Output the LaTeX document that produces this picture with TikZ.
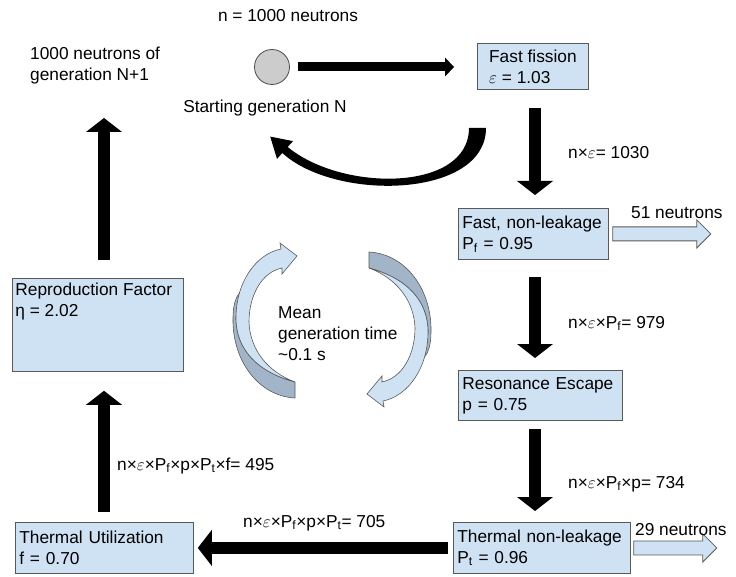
\documentclass[tikz,border=0pt]{standalone}
\usepackage{fontspec}
\setmainfont{Liberation Sans}
\usetikzlibrary{arrows.meta,calc}
\definecolor{boxfill}{HTML}{CFE2F3}
\definecolor{boxline}{HTML}{595959}
\definecolor{arcdark}{HTML}{A2B4C8}
\definecolor{circfill}{HTML}{CCCCCC}
\newcommand{\nb}[1]{\mbox{#1}}
\begin{document}
\begin{tikzpicture}[x=1pt,y=-1pt,
  every node/.style={font=\fontsize{17.3}{21}\selectfont, inner sep=0pt},
  box/.style={draw=boxline, fill=boxfill, line width=0.8pt, anchor=north west, align=left, inner xsep=4pt, inner ysep=2pt},
  blk/.style={line width=12pt, -{Triangle[width=36pt,length=14pt,line width=0pt]}},
  blkthin/.style={line width=9pt, -{Triangle[width=19pt,length=9pt,line width=0pt]}},
  hollow/.style={draw=boxline, fill=boxfill, line width=0.8pt},
  arcl/.style={draw=boxline, fill=boxfill, line width=0.6pt},
  arcd/.style={draw=boxline, fill=arcdark, line width=0.6pt},
  lbl/.style={anchor=base west}]
\useasboundingbox (0,0) rectangle (736,577);

% texts
\node[anchor=base] (title) at (288,22) {n = 1000 neutrons};
\node[anchor=north west, align=left] (nextgen) at (30,47) {1000 neutrons of\\generation N+1};
\node[anchor=base] (start) at (265,113) {Starting generation N};

% source circle
\node[circle, draw=gray!60!black, fill=circfill, minimum size=35pt, line width=0.8pt] (src) at (272,67) {};

% boxes
\node[box, minimum width=111pt, minimum height=46pt] (ff) at (477,43) {Fast fission\\$\varepsilon$ = 1.03};
\node[box, text width=142pt, minimum height=51pt] (fnl) at (458,208) {\nb{Fast, non-leakage}\\P\textsubscript{f} = 0.95};
\node[box, text width=156pt, minimum height=50pt] (res) at (458,370) {\nb{Resonance Escape}\\p = 0.75};
\node[box, text width=169pt, minimum height=51pt] (tnl) at (453,522) {\nb{Thermal non-leakage}\\P\textsubscript{t} = 0.96};
\node[box, text width=170pt, minimum height=51pt] (tu) at (15,522) {\nb{Thermal Utilization}\\f = 0.70};
\node[box, inner xsep=3pt, inner ysep=5pt] (rf) at (12,278) {\parbox[t][83pt][t]{165pt}{Reproduction Factor\\η = 2.02}};

% black arrows
\coordinate (colx) at (535,0);
\coordinate (colL) at (104,0);
\coordinate (gentip) at (104,118);
\draw[blkthin] ($(src.east)+(8.5,0)$) -- ($(src.east -| ff.west)+(-23,0)$);
\draw[blk] ($(ff.south -| colx)+(0,18)$) -- ($(fnl.north -| colx)+(0,-13)$);
\draw[blk] ($(fnl.south -| colx)+(0,17)$) -- ($(res.north -| colx)+(0,-12)$);
\draw[blk] ($(res.south -| colx)+(0,8)$) -- ($(tnl.north -| colx)+(0,-11)$);
\draw[blk] ($(tnl.west)+(-5,0)$) -- ($(tu.east)+(4,0)$);
\draw[blk] ($(tu.north -| colL)+(0,-10)$) -- ($(rf.south -| colL)+(0,19)$);
\draw[blk] ($(rf.north -| colL)+(0,-18)$) -- (gentip);

% curved return arrow
\fill[black] (486,128) .. controls (486,198) and (336,202) .. (282.3,153)
  -- (277,158.9) -- (270.2,136.6) -- (293,141.1) -- (287.7,147)
  .. controls (342,192) and (469,192) .. (469,128) -- cycle;

% leakage arrows
\draw[hollow] ($(fnl.east)+(4,-7)$) -- ++(84,0) -- ++(0,-7) -- ++(14,14) -- ++(-14,14) -- ++(0,-7) -- ++(-84,0) -- cycle;
\draw[hollow] ($(tnl.east)+(3,-7)$) -- ++(69,0) -- ++(0,-7) -- ++(14,14) -- ++(-14,14) -- ++(0,-7) -- ++(-69,0) -- cycle;
\node[lbl] (n51) at (631,219) {51 neutrons};
\node[lbl] (n29) at (635,535) {29 neutrons};

% cycle arrows
\foreach \ang in {0,180}{
\begin{scope}[rotate around={\ang:(332,325)}]
\path[arcd] (295,398) .. controls (258,396) and (232,360) .. (233,318)
  .. controls (233,305) and (236,297) .. (239.6,292.8)
  -- (236,318) .. controls (236,350) and (258,372) .. (295,382) -- cycle;
\path[arcl] (295,382) .. controls (258,372) and (236,350) .. (236,318)
  .. controls (236,282) and (256,254) .. (281,249)
  -- (280,243) -- (297,256) -- (282,274) -- (282,268)
  .. controls (262,272) and (249,295) .. (249,322)
  .. controls (250,350) and (268,372) .. (295,382) -- cycle;
\end{scope}}
\node[anchor=north west, align=left] (mean) at (278,306) {Mean\\generation time\\\textasciitilde0.1 s};

% formula labels
\node[lbl] (l1) at (568,159) {n×$\varepsilon$= 1030};
\node[lbl] (l2) at (568,328) {n×$\varepsilon$×P\textsubscript{f}= 979};
\node[lbl] (l3) at (568,488) {n×$\varepsilon$×P\textsubscript{f}×p= 734};
\node[lbl] (l4) at (243,527) {n×$\varepsilon$×P\textsubscript{f}×p×P\textsubscript{t}= 705};
\node[lbl] (l5) at (117,470) {n×$\varepsilon$×P\textsubscript{f}×p×P\textsubscript{t}×f= 495};
\end{tikzpicture}
\end{document}
